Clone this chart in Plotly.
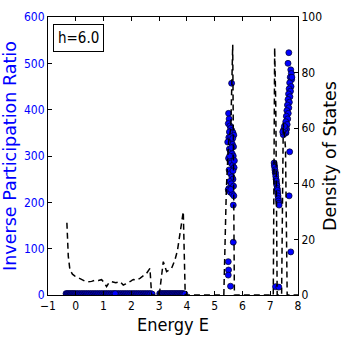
import plotly.graph_objects as go

# density of states (right axis), dashed curve
dos_energy = [-0.32, -0.27, -0.21, -0.12, -0.03, 0.09, 0.21, 0.33, 0.45, 0.57,
              0.69, 0.81, 0.93, 1.02, 1.11, 1.20, 1.29, 1.44, 1.59, 1.71,
              1.80, 1.89, 1.98, 2.07, 2.19, 2.31, 2.43, 2.55, 2.67, 2.73,
              2.97, 3.03, 3.15, 3.27, 3.36, 3.45, 3.57, 3.66, 3.75, 3.87,
              3.94, 5.33, 5.42, 5.50, 5.58, 5.65, 5.71, 7.11, 7.16, 7.20,
              7.25, 7.41, 7.47, 7.55, 7.61, 8.0]
dos_value = [26, 14, 9, 7.5, 6.8, 6.2, 5.6, 5.0, 4.8, 4.9,
             5.3, 5.2, 5.5, 4.5, 3.0, 4.5, 4.8, 4.4, 4.8, 3.6,
             4.0, 4.4, 5.0, 5.6, 5.4, 6.0, 6.8, 7.8, 9.6, 0,
             0, 2, 12, 8.4, 9.0, 9.6, 12.6, 16, 22, 30,
             0, 0, 38, 55, 60, 90, 0, 0, 89, 68,
             0, 0, 62, 53, 0, 0]

# inverse participation ratio (left axis): extended states near zero
low_energy = [
    -0.35, -0.32, -0.29, -0.26, -0.23, -0.20, -0.17, -0.14, -0.11, -0.08,
    -0.05, -0.02, 0.02, 0.06, 0.10, 0.14, 0.18, 0.22, 0.26, 0.30,
    0.34, 0.38, 0.42, 0.46, 0.50, 0.54, 0.58, 0.62, 0.66, 0.70,
    0.74, 0.78, 0.82, 0.86, 0.90, 0.94, 0.98, 1.02, 1.06, 1.10,
    1.14, 1.18, 1.22, 1.26, 1.30, 1.34, 1.38, 1.46, 1.50, 1.54,
    1.58, 1.62, 1.66, 1.70, 1.74, 1.78, 1.82, 1.86, 1.90, 1.94,
    1.98, 2.02, 2.06, 2.10, 2.14, 2.18, 2.22, 2.26, 2.30, 2.34,
    2.38, 2.42, 2.46, 2.50, 2.54, 2.58, 2.62, 2.66, 2.70,
    3.02, 3.05, 3.08, 3.11, 3.14, 3.17, 3.20, 3.23, 3.26, 3.29,
    3.32, 3.35, 3.38, 3.41, 3.44, 3.47, 3.50, 3.53, 3.56, 3.59,
    3.62, 3.65, 3.68, 3.71, 3.74, 3.77, 3.80, 3.83, 3.86, 3.89,
]
low_value = [
    3, 2, 3, 2, 3, 2, 3, 2, 3, 2,
    3, 2, 3, 2, 3, 2, 3, 2, 3, 2,
    3, 2, 3, 2, 3, 2, 3, 2, 3, 2,
    3, 2, 3, 2, 3, 2, 3, 2, 3, 2,
    3, 2, 3, 2, 3, 2, 3, 2, 3, 2,
    3, 2, 3, 2, 3, 2, 3, 2, 3, 2,
    3, 2, 3, 2, 3, 2, 3, 2, 3, 2,
    3, 2, 3, 2, 3, 2, 3, 2, 3,
    3, 2, 3, 2, 3, 2, 3, 2, 3, 2,
    3, 2, 3, 2, 3, 2, 3, 2, 3, 2,
    3, 2, 3, 2, 3, 2, 3, 2, 3, 2,
]

# inverse participation ratio (left axis): localized states in the upper bands
ipr_energy = [
    5.61, 5.50, 5.52, 5.49, 5.55, 5.58, 5.62, 5.66, 5.69, 5.51,
    5.56, 5.60, 5.64, 5.68, 5.53, 5.57, 5.63, 5.67, 5.50, 5.55,
    5.59, 5.65, 5.70, 5.52, 5.57, 5.62, 5.66, 5.54, 5.60, 5.68,
    5.51, 5.49, 5.56, 5.64, 5.69, 5.67, 5.67, 5.49, 5.50, 5.49,
    5.57, 5.53, 5.58, 5.65, 5.61, 5.54, 5.66, 5.58, 5.47, 5.71,
    7.14, 7.15, 7.16, 7.17, 7.18, 7.19, 7.20, 7.21, 7.22, 7.23,
    7.24, 7.25, 7.26, 7.27, 7.28, 7.29, 7.30, 7.31, 7.32, 7.19, 7.31,
    7.67, 7.64, 7.74, 7.76, 7.72, 7.77, 7.70, 7.75, 7.68, 7.73,
    7.66, 7.71, 7.64, 7.69, 7.62, 7.67, 7.60, 7.65, 7.58, 7.63,
    7.56, 7.61, 7.54, 7.59, 7.52, 7.57, 7.50, 7.55, 7.48, 7.53,
    7.47, 7.51, 7.70, 7.68, 7.74, 7.78, 7.45,
    1.42, 2.75, 3.93,
]
ipr_value = [
    457, 392, 380, 370, 365, 360, 355, 350, 345, 340,
    335, 330, 325, 320, 315, 310, 305, 300, 295, 290,
    285, 280, 275, 270, 262, 255, 250, 245, 240, 235,
    230, 227, 222, 218, 214, 194, 114, 72, 54, 43,
    19, 352, 342, 338, 318, 300, 268, 228, 330, 290,
    285, 280, 276, 270, 265, 262, 256, 250, 246, 240,
    236, 230, 226, 220, 214, 208, 203, 198, 194, 18, 17,
    523, 500, 486, 478, 470, 465, 458, 450, 445, 440,
    434, 428, 422, 416, 410, 404, 398, 392, 386, 380,
    374, 368, 362, 358, 354, 350, 348, 352, 356, 360,
    346, 364, 309, 214, 93, 470, 352,
    3, 2, 2,
]

marker = dict(color="#0000ff", size=6, line=dict(color="#000022", width=0.7))

fig = go.Figure()
fig.add_trace(go.Scatter(x=low_energy, y=low_value, mode="markers", yaxis="y",
                         marker=marker, showlegend=False))
fig.add_trace(go.Scatter(x=ipr_energy, y=ipr_value, mode="markers", yaxis="y",
                         marker=marker, showlegend=False))
fig.add_trace(go.Scatter(
    x=dos_energy, y=dos_value, mode="lines", yaxis="y2",
    line=dict(color="black", width=1.5, dash="6px,4px"),
    showlegend=False,
))

cond = "DejaVu Sans Condensed, DejaVu Sans"
fig.update_layout(
    width=346, height=346,
    margin=dict(l=48, r=48, t=17, b=51),
    paper_bgcolor="white", plot_bgcolor="white",
    font=dict(family=cond, size=12, color="black"),
    xaxis=dict(
        range=[-1, 8], tickvals=[-1, 0, 1, 2, 3, 4, 5, 6, 7, 8],
        ticktext=["\u22121", "0", "1", "2", "3", "4", "5", "6", "7", "8"],
        ticks="inside", ticklen=4, tickcolor="black",
        showline=True, linecolor="black", linewidth=1, mirror="ticks",
        showgrid=False, zeroline=False, automargin=False,
        title=dict(text="Energy E", font=dict(size=18), standoff=5),
    ),
    yaxis=dict(
        range=[0, 600], tickvals=[0, 100, 200, 300, 400, 500, 600],
        ticks="inside", ticklen=4, tickcolor="black",
        tickfont=dict(color="#0000ff"),
        showline=True, linecolor="black", linewidth=1,
        showgrid=False, zeroline=False, automargin=False,
        title=dict(text="Inverse Participation Ratio",
                   font=dict(family="DejaVu Sans", size=17.5, color="#0000ff"),
                   standoff=2),
    ),
    yaxis2=dict(
        range=[0, 100], tickvals=[0, 20, 40, 60, 80, 100],
        overlaying="y", side="right",
        ticks="inside", ticklen=4, tickcolor="black",
        showline=True, linecolor="black", linewidth=1,
        showgrid=False, zeroline=False, automargin=False,
        title=dict(text="Density of States",
                   font=dict(family="DejaVu Sans", size=17.5), standoff=2),
    ),
    annotations=[dict(
        text="h=6.0", xref="paper", yref="paper", x=0.02, y=0.975,
        xanchor="left", yanchor="top", showarrow=False,
        font=dict(size=15, color="black"),
        bordercolor="black", borderwidth=1, borderpad=4, bgcolor="white",
    )],
)

# the page's default body margin would shift the figure
fig.write_html("out.html", config={"displayModeBar": False},
               post_script="document.body.style.margin='0';")
